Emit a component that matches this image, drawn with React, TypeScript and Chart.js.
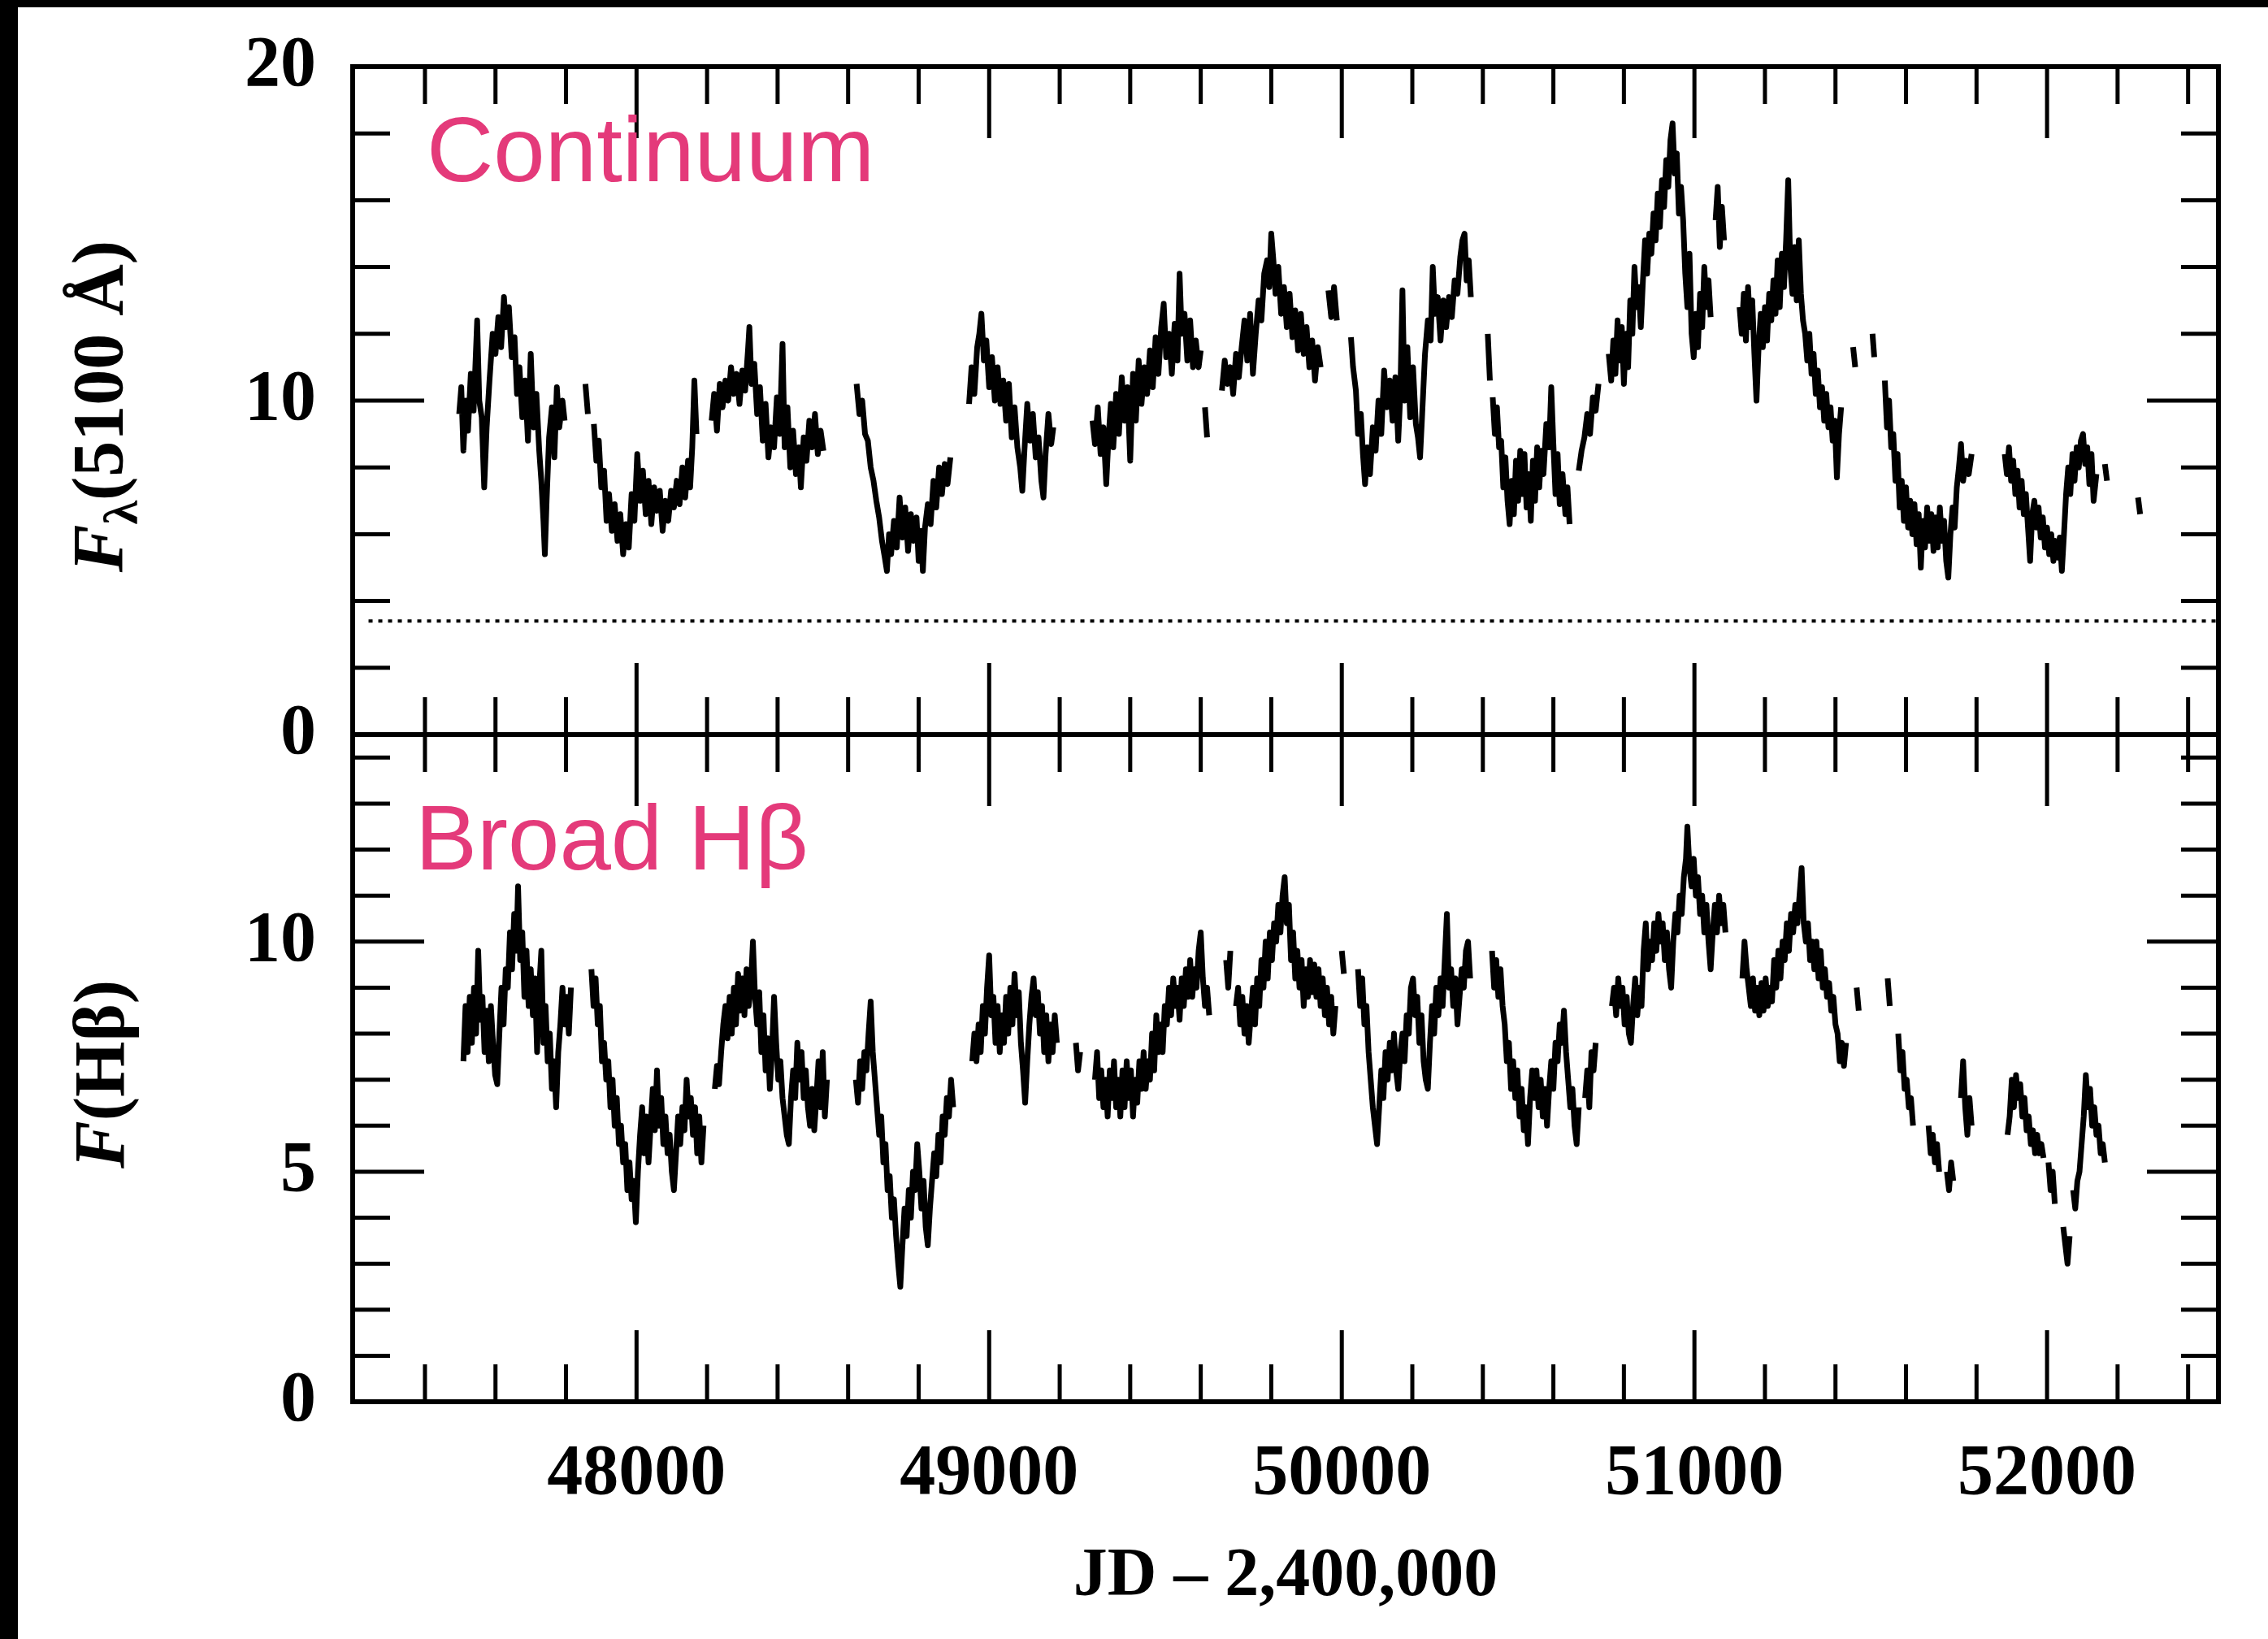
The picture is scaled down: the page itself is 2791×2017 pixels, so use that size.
import React, { useEffect, useRef } from "react";
import { Chart, registerables } from "chart.js";

Chart.register(...registerables);

// ---------------- data ----------------
const X_TICK_LABELS = [48000, 49000, 50000, 51000, 52000];
const CONT_TICK_LABELS = [0, 10, 20];
const HB_TICK_LABELS = [0, 5, 10];
const JD_RANGE = [47195, 52486];
const CONT_RANGE = [0, 20];
const HB_RANGE = [0, 14.5];
const HOST_JD = [47240, 52486];
const HOST_FLUX = [3.4, 3.4];

const CONT_LABEL = "Continuum";
const HB_LABEL = "Broad H\u03b2";
const X_TITLE = "JD \u2013 2,400,000";

// Continuum F_lambda(5100 A): [JD - 2,400,000, flux]; null = seasonal gap
const CONTINUUM: [number, number | null][] = [
  [47497,9.6],[47503,10.4],[47509,8.5],[47516,10.0],[47522,9.1],[47530,10.8],[47538,9.7],[47548,12.4],[47554,10.0],[47561,9.5],
  [47568,7.4],[47575,9.2],[47583,10.6],[47592,12.0],[47600,11.4],[47608,12.5],[47616,11.6],[47624,13.1],[47630,12.2],[47638,12.8],
  [47646,11.3],[47654,11.9],[47661,10.2],[47668,11.0],[47676,9.5],[47684,10.6],[47692,8.8],[47700,11.4],[47708,9.2],[47716,10.2],
  [47724,8.5],[47730,7.6],[47736,6.4],[47740,5.4],[47745,7.0],[47752,8.9],[47760,9.8],[47767,8.3],[47774,10.4],[47781,9.2],
  [47790,10.0],[47796,9.4],[47820,null],[47855,10.5],[47862,9.6],[47870,null],
  [47879,9.3],[47886,8.2],[47893,8.8],[47900,7.4],[47908,7.9],[47915,6.4],[47922,7.2],[47930,6.1],[47938,6.9],[47946,5.8],
  [47954,6.6],[47962,5.4],[47970,6.3],[47978,5.6],[47986,7.2],[47994,6.4],[48002,8.4],[48010,7.0],[48018,7.9],[48026,6.6],
  [48034,7.6],[48042,6.3],[48050,7.4],[48058,6.7],[48066,7.3],[48074,6.1],[48082,7.0],[48090,6.4],[48098,7.3],[48106,6.8],
  [48114,7.6],[48122,6.9],[48130,8.0],[48138,7.1],[48146,8.2],[48152,7.4],[48158,8.6],[48164,10.6],[48170,9.0],[48190,null],
  [48213,9.4],[48220,10.2],[48228,9.1],[48236,10.5],[48244,9.8],[48252,10.6],[48260,10.0],[48268,11.0],[48276,10.2],[48284,10.8],
  [48292,9.9],[48300,10.9],[48308,10.3],[48316,11.5],[48320,12.2],[48326,10.5],[48334,11.1],[48342,9.6],[48350,10.4],[48358,8.8],
  [48366,9.9],[48374,8.3],[48382,9.2],[48390,8.6],[48398,10.1],[48406,9.0],[48414,11.7],[48420,8.6],[48428,9.8],[48436,8.0],
  [48444,9.1],[48452,7.8],[48460,8.6],[48466,7.4],[48474,8.9],[48482,8.2],[48490,9.4],[48498,8.6],[48506,9.6],[48514,8.4],
  [48522,9.1],[48530,8.5],[48580,null],
  [48624,10.5],[48632,9.6],[48640,10.0],[48648,9.0],[48656,8.8],[48664,8.0],[48672,7.6],[48680,7.0],[48688,6.5],[48696,5.8],
  [48704,5.3],[48710,4.9],[48716,6.0],[48722,5.4],[48730,6.4],[48738,5.6],[48746,7.1],[48754,5.9],[48762,6.8],[48770,5.5],
  [48778,6.6],[48786,5.8],[48794,6.5],[48800,5.2],[48806,6.1],[48812,4.9],[48818,6.2],[48826,6.9],[48834,6.3],[48842,7.6],
  [48850,6.8],[48858,8.0],[48866,7.2],[48874,8.1],[48882,7.5],[48890,8.3],[48915,null],
  [48943,9.9],[48950,11.0],[48958,10.2],[48966,11.6],[48972,12.0],[48978,12.6],[48985,11.2],[48992,11.8],[49000,10.4],[49008,11.3],
  [49016,10.0],[49024,11.0],[49032,9.9],[49040,10.6],[49048,9.4],[49056,10.5],[49064,8.9],[49072,9.8],[49080,8.6],[49088,8.0],
  [49094,7.3],[49100,8.5],[49108,9.9],[49116,8.8],[49124,9.6],[49132,8.3],[49140,8.9],[49148,7.6],[49154,7.1],[49160,8.4],
  [49168,9.6],[49176,8.7],[49182,9.2],[49240,null],
  [49293,9.4],[49300,8.7],[49308,9.8],[49316,8.4],[49324,9.2],[49332,7.5],[49338,8.8],[49345,9.9],[49352,8.6],[49360,10.2],
  [49368,9.0],[49376,10.7],[49384,9.4],[49392,10.4],[49400,8.2],[49408,10.8],[49416,9.4],[49424,11.2],[49432,9.9],[49440,11.0],
  [49448,10.2],[49456,11.5],[49464,10.4],[49472,11.9],[49480,10.8],[49488,12.2],[49495,12.9],[49502,11.3],[49510,12.0],[49518,10.8],
  [49526,12.3],[49534,11.2],[49540,13.8],[49546,12.0],[49554,12.6],[49562,11.2],[49570,12.4],[49578,11.0],[49586,11.8],[49594,11.0],
  [49600,11.5],[49606,null],[49612,9.8],[49618,8.9],[49640,null],
  [49660,10.3],[49668,11.2],[49676,10.5],[49684,11.0],[49692,10.2],[49700,11.4],[49708,10.7],[49716,11.6],[49724,12.4],[49732,11.2],
  [49740,12.6],[49748,10.8],[49756,12.0],[49764,13.0],[49772,12.4],[49780,13.8],[49788,14.2],[49794,13.4],[49800,15.0],[49806,14.2],
  [49812,13.2],[49820,14.0],[49828,12.6],[49836,13.4],[49844,12.2],[49852,13.2],[49860,11.9],[49868,12.7],[49876,11.5],[49884,12.6],
  [49892,11.4],[49900,12.2],[49908,11.0],[49916,11.8],[49924,10.6],[49932,11.6],[49940,11.0],[49950,null],[49962,13.3],[49970,12.5],
  [49978,13.4],[49986,12.4],[50005,null],
  [50026,11.9],[50032,11.0],[50040,10.3],[50046,9.0],[50054,9.6],[50060,8.4],[50066,7.5],[50072,8.6],[50080,7.8],[50088,9.2],
  [50096,8.5],[50104,10.0],[50112,9.0],[50120,10.9],[50128,9.8],[50136,10.6],[50144,9.4],[50152,10.7],[50160,8.8],[50166,10.2],
  [50172,13.3],[50178,10.0],[50186,11.6],[50194,9.5],[50202,11.0],[50210,9.3],[50216,8.9],[50222,8.3],[50228,9.6],[50236,11.4],
  [50244,12.4],[50252,11.8],[50258,14.0],[50264,12.6],[50272,13.1],[50280,11.8],[50288,13.0],[50296,12.2],[50304,13.1],[50312,12.5],
  [50320,13.6],[50328,13.2],[50336,14.3],[50342,14.8],[50348,15.0],[50354,13.6],[50360,14.2],[50366,13.1],[50390,null],
  [50414,12.0],[50420,10.6],[50424,null],
  [50428,10.1],[50434,9.0],[50440,9.8],[50446,8.6],[50452,8.8],[50458,7.4],[50464,8.3],[50470,7.0],[50476,6.3],[50482,7.6],
  [50488,6.6],[50494,8.2],[50500,7.0],[50506,8.5],[50512,7.2],[50518,8.4],[50524,6.8],[50530,7.8],[50536,6.4],[50542,8.2],
  [50548,7.0],[50554,8.6],[50560,7.4],[50566,8.5],[50572,7.8],[50580,9.3],[50588,8.6],[50594,10.4],[50600,8.7],[50606,7.2],
  [50612,8.4],[50618,6.9],[50626,7.8],[50634,6.6],[50640,7.4],[50646,6.3],[50660,null],
  [50672,7.9],[50680,8.5],[50688,8.9],[50696,9.6],[50704,9.0],[50712,10.1],[50720,9.7],[50728,10.5],[50742,null],
  [50757,11.4],[50764,10.6],[50770,11.8],[50776,10.8],[50782,12.4],[50788,11.2],[50794,12.2],[50800,10.5],[50806,12.0],[50812,11.0],
  [50818,13.0],[50824,12.0],[50830,14.0],[50836,12.8],[50842,13.4],[50848,12.2],[50854,13.6],[50860,14.8],[50866,13.8],[50872,15.0],
  [50878,14.4],[50884,15.6],[50890,14.8],[50896,16.2],[50902,15.2],[50908,16.6],[50914,15.8],[50920,17.2],[50926,16.4],[50932,17.8],
  [50938,18.3],[50944,16.8],[50950,17.4],[50956,15.6],[50962,16.4],[50968,15.4],[50974,13.8],[50980,12.8],[50986,14.4],[50992,12.0],
  [50998,11.3],[51004,12.6],[51010,11.6],[51016,13.2],[51022,12.2],[51028,14.0],[51034,12.8],[51040,13.6],[51046,12.5],[51053,null],
  [51060,15.4],[51066,16.4],[51072,14.6],[51078,15.8],[51084,14.8],[51100,null],
  [51128,12.8],[51134,12.0],[51140,13.2],[51146,11.8],[51152,13.4],[51158,12.2],[51164,13.0],[51170,11.4],[51176,10.0],[51182,11.6],
  [51188,12.6],[51194,11.6],[51200,12.8],[51206,11.8],[51212,13.2],[51218,12.4],[51224,13.6],[51230,12.6],[51236,14.2],[51242,12.8],
  [51248,14.4],[51254,13.4],[51260,14.8],[51266,16.6],[51272,14.0],[51278,13.2],[51284,14.6],[51290,13.0],[51296,14.8],[51302,13.2],
  [51308,12.4],[51314,12.0],[51320,11.2],[51326,12.0],[51332,10.8],[51338,11.4],[51344,10.2],[51350,10.9],[51356,9.8],[51362,10.4],
  [51368,9.4],[51374,10.2],[51380,9.2],[51386,9.8],[51392,8.8],[51398,9.4],[51404,7.7],[51410,9.0],[51416,9.8],[51430,null],
  [51450,11.6],[51456,11.0],[51480,null],[51505,12.0],[51510,11.3],[51525,null],
  [51540,10.6],[51546,9.2],[51552,10.0],[51558,8.6],[51564,9.0],[51570,7.6],[51576,8.4],[51582,6.8],[51588,7.6],[51594,6.4],
  [51600,7.4],[51606,6.2],[51612,7.0],[51618,6.0],[51624,6.9],[51630,5.7],[51636,6.6],[51642,5.0],[51648,6.4],[51654,5.6],
  [51660,6.8],[51666,5.8],[51672,6.6],[51678,5.5],[51684,6.5],[51690,5.6],[51696,6.8],[51702,5.8],[51708,6.4],[51714,5.2],
  [51720,4.7],[51726,6.0],[51732,6.8],[51738,6.2],[51744,7.4],[51750,8.0],[51756,8.7],[51762,7.6],[51770,8.2],[51778,7.8],
  [51786,8.4],[51830,null],
  [51880,8.4],[51886,7.8],[51892,8.6],[51898,7.6],[51904,8.2],[51910,7.2],[51916,7.9],[51922,6.8],[51928,7.6],[51934,6.6],
  [51940,7.2],[51946,6.2],[51952,5.2],[51958,6.6],[51964,7.0],[51970,6.2],[51976,6.8],[51982,5.9],[51988,6.5],[51994,5.6],
  [52000,6.2],[52006,5.4],[52012,6.0],[52018,5.2],[52024,5.8],[52030,5.3],[52036,5.9],[52042,4.9],[52048,6.0],[52054,7.2],
  [52060,8.0],[52066,7.2],[52072,8.4],[52078,7.6],[52084,8.6],[52090,8.0],[52096,8.8],[52102,9.0],[52108,8.1],[52114,8.6],
  [52120,7.5],[52126,8.4],[52132,7.0],[52140,7.8],[52150,null],[52164,8.1],[52170,7.6],[52210,null],[52258,7.1],[52264,6.6],
];

// Broad H-beta flux: [JD - 2,400,000, flux]; null = seasonal gap
const BROAD_HB: [number, number | null][] = [
  [47509,7.4],[47515,8.6],[47521,7.6],[47527,8.8],[47533,7.8],[47539,9.0],[47545,8.0],[47551,9.8],[47557,8.3],[47563,8.8],
  [47569,7.6],[47575,8.5],[47581,7.4],[47587,8.6],[47593,7.8],[47599,7.1],[47605,6.9],[47611,8.0],[47617,9.0],[47623,8.2],
  [47629,9.4],[47635,9.0],[47641,10.2],[47647,9.4],[47653,10.6],[47659,9.8],[47664,11.2],[47670,9.6],[47676,10.2],[47682,8.8],
  [47688,9.8],[47694,8.6],[47700,9.4],[47706,8.4],[47712,9.2],[47718,7.6],[47724,9.0],[47730,9.8],[47736,7.8],[47742,8.6],
  [47748,7.4],[47754,8.0],[47760,6.8],[47766,7.4],[47772,6.4],[47778,7.6],[47784,8.2],[47790,9.0],[47796,8.2],[47802,8.8],
  [47808,8.0],[47814,9.0],[47840,null],
  [47872,9.4],[47878,8.6],[47884,9.2],[47890,8.2],[47896,8.6],[47902,7.4],[47908,7.8],[47914,7.0],[47920,7.4],[47926,6.4],
  [47932,7.0],[47938,6.0],[47944,6.6],[47950,5.6],[47956,6.0],[47962,5.2],[47968,5.6],[47974,4.6],[47980,5.2],[47986,4.4],
  [47992,4.8],[47998,3.9],[48004,5.0],[48010,5.8],[48016,6.4],[48022,5.4],[48028,6.2],[48034,5.2],[48040,6.0],[48046,6.8],
  [48052,5.9],[48058,7.2],[48064,6.0],[48070,6.6],[48076,5.6],[48082,6.2],[48088,5.4],[48094,5.8],[48100,5.0],[48106,4.6],
  [48112,5.4],[48118,6.2],[48124,5.6],[48130,6.4],[48136,5.9],[48142,7.0],[48148,6.2],[48154,6.6],[48160,5.8],[48166,6.4],
  [48172,5.4],[48178,6.2],[48184,5.2],[48190,6.0],[48205,null],
  [48222,6.8],[48228,7.3],[48234,6.9],[48240,7.6],[48246,8.2],[48252,8.6],[48258,7.9],[48264,8.8],[48270,8.0],[48276,9.0],
  [48282,8.2],[48288,9.3],[48294,8.5],[48300,9.2],[48306,8.4],[48312,9.4],[48318,8.6],[48324,9.0],[48330,10.0],[48336,8.8],
  [48342,8.2],[48348,8.9],[48354,7.6],[48360,8.4],[48366,7.2],[48372,7.9],[48378,6.8],[48384,7.6],[48390,8.8],[48396,7.8],
  [48402,7.0],[48408,7.4],[48414,6.6],[48420,6.2],[48426,5.8],[48432,5.6],[48438,6.6],[48444,7.2],[48450,6.6],[48456,7.8],
  [48462,7.0],[48468,7.6],[48474,6.6],[48480,7.2],[48486,6.4],[48492,6.0],[48498,6.8],[48504,5.9],[48510,6.6],[48516,7.4],
  [48522,6.4],[48528,7.6],[48534,6.2],[48540,7.0],[48580,null],
  [48622,7.0],[48628,6.5],[48634,7.4],[48640,6.8],[48646,7.6],[48652,7.2],[48658,8.0],[48664,8.7],[48670,7.6],[48676,7.0],
  [48682,6.4],[48688,5.8],[48694,6.2],[48700,5.2],[48706,5.6],[48712,4.6],[48718,4.9],[48724,4.0],[48730,4.4],[48736,3.6],
  [48742,3.0],[48748,2.5],[48754,3.4],[48760,4.2],[48766,3.6],[48772,4.6],[48778,4.0],[48784,5.0],[48790,4.6],[48796,5.6],
  [48802,5.0],[48808,4.2],[48814,4.8],[48820,3.8],[48826,3.4],[48832,4.2],[48838,4.8],[48844,5.4],[48850,4.9],[48856,5.8],
  [48862,5.2],[48868,6.2],[48874,5.8],[48880,6.6],[48886,6.2],[48892,7.0],[48898,6.4],[48925,null],
  [48952,7.4],[48958,8.0],[48964,7.4],[48970,8.2],[48976,7.6],[48982,8.6],[48988,8.0],[48994,9.0],[49000,9.7],[49006,8.4],
  [49012,8.8],[49018,7.8],[49024,8.6],[49030,7.6],[49036,8.4],[49042,7.8],[49048,8.8],[49054,8.0],[49060,9.0],[49066,8.2],
  [49072,9.3],[49078,8.4],[49084,8.9],[49090,7.8],[49096,7.2],[49102,6.5],[49108,7.4],[49114,8.2],[49120,8.8],[49126,9.2],
  [49132,8.4],[49138,8.9],[49144,8.0],[49150,8.6],[49156,7.6],[49162,8.4],[49168,7.4],[49174,8.2],[49180,7.6],[49186,8.4],
  [49192,7.8],[49220,null],[49246,7.8],[49252,7.2],[49258,7.6],[49280,null],
  [49300,7.0],[49306,7.6],[49312,6.6],[49318,7.2],[49324,6.4],[49330,7.0],[49336,6.2],[49342,7.2],[49348,6.6],[49354,7.4],
  [49360,6.4],[49366,7.0],[49372,6.2],[49378,7.2],[49384,6.4],[49390,7.4],[49396,6.6],[49402,7.2],[49408,6.2],[49414,7.0],
  [49420,6.5],[49426,7.4],[49432,6.8],[49438,7.6],[49444,6.8],[49450,7.4],[49456,7.0],[49462,8.0],[49468,7.2],[49474,8.4],
  [49480,7.6],[49486,8.2],[49492,7.6],[49498,8.6],[49504,8.2],[49510,9.0],[49516,8.4],[49522,9.2],[49528,8.6],[49534,9.0],
  [49540,8.3],[49546,9.2],[49552,8.6],[49558,9.4],[49564,8.8],[49570,9.6],[49576,8.8],[49582,9.4],[49588,9.0],[49594,9.8],
  [49600,10.2],[49606,9.2],[49612,8.6],[49618,9.0],[49624,8.4],[49650,null],
  [49672,9.6],[49678,9.0],[49684,9.8],[49692,null],[49700,8.6],[49706,9.0],[49712,8.2],[49718,8.8],[49724,8.0],[49730,8.6],
  [49736,7.8],[49742,8.4],[49748,9.0],[49754,8.2],[49760,9.2],[49766,8.6],[49772,9.6],[49778,9.0],[49784,10.0],[49790,9.2],
  [49796,10.2],[49802,9.6],[49808,10.4],[49814,10.0],[49820,10.8],[49826,10.2],[49832,11.0],[49838,11.4],[49844,10.4],[49850,10.8],
  [49856,9.6],[49862,10.2],[49868,9.2],[49874,9.8],[49880,9.0],[49886,9.6],[49892,8.6],[49898,9.4],[49904,8.8],[49910,9.6],
  [49916,8.9],[49922,9.5],[49928,8.8],[49934,9.4],[49940,8.6],[49946,9.2],[49952,8.4],[49958,9.0],[49964,8.2],[49970,8.8],
  [49976,8.0],[49982,8.6],[49991,null],[50000,9.8],[50006,9.3],[50025,null],
  [50046,9.4],[50052,8.6],[50058,9.2],[50064,8.2],[50070,8.6],[50076,7.6],[50082,7.0],[50088,6.4],[50094,6.0],[50100,5.6],
  [50106,6.4],[50112,7.2],[50118,6.6],[50124,7.6],[50130,7.0],[50136,7.8],[50142,7.2],[50148,8.0],[50154,7.2],[50160,6.8],
  [50166,7.6],[50172,8.0],[50178,7.4],[50184,8.4],[50190,8.0],[50196,9.0],[50202,9.2],[50208,8.4],[50214,8.8],[50220,7.8],
  [50226,8.4],[50232,7.4],[50238,7.0],[50244,6.8],[50250,7.8],[50256,8.6],[50262,8.0],[50268,9.0],[50274,8.4],[50280,9.2],
  [50286,8.6],[50292,9.6],[50298,10.6],[50304,9.0],[50310,9.4],[50316,8.6],[50322,9.2],[50328,8.2],[50334,8.8],[50340,9.4],
  [50346,9.0],[50352,9.8],[50358,10.0],[50364,9.2],[50395,null],
  [50426,9.8],[50432,9.0],[50438,9.6],[50444,8.8],[50450,9.4],[50456,8.6],[50462,8.2],[50468,7.4],[50474,7.8],[50480,6.8],
  [50486,7.4],[50492,6.6],[50498,7.2],[50504,6.2],[50510,6.8],[50516,5.9],[50522,6.4],[50528,5.6],[50534,6.6],[50540,7.2],
  [50546,6.6],[50552,7.2],[50558,6.4],[50564,7.0],[50570,6.2],[50576,6.8],[50582,6.0],[50588,6.8],[50594,7.4],[50600,6.8],
  [50606,7.8],[50612,7.4],[50618,8.2],[50624,7.8],[50630,8.5],[50636,7.6],[50642,7.0],[50648,6.4],[50654,6.8],[50660,6.0],
  [50666,5.6],[50672,6.4],[50681,null],[50690,6.6],[50696,7.2],[50702,6.4],[50708,7.6],[50714,7.2],[50720,7.8],[50745,null],
  [50766,8.6],[50772,9.0],[50778,8.4],[50784,9.2],[50790,8.6],[50796,9.0],[50802,8.2],[50808,8.8],[50814,8.0],[50820,7.8],
  [50826,8.6],[50832,9.2],[50838,8.4],[50844,9.0],[50850,8.6],[50856,9.8],[50862,10.4],[50868,9.4],[50874,10.0],[50880,9.6],
  [50886,10.4],[50892,9.8],[50898,10.6],[50904,10.0],[50910,10.4],[50916,9.6],[50922,10.2],[50928,9.4],[50934,9.0],[50940,10.0],
  [50946,10.6],[50952,10.2],[50958,11.0],[50964,10.6],[50970,11.4],[50976,11.8],[50980,12.5],[50986,11.6],[50992,11.2],[50998,11.8],
  [51004,11.0],[51010,11.4],[51016,10.6],[51022,11.0],[51028,10.2],[51034,10.8],[51040,10.0],[51046,9.4],[51052,10.2],[51058,10.8],
  [51064,10.2],[51070,11.0],[51076,10.4],[51082,10.8],[51088,10.2],[51110,null],
  [51136,9.2],[51142,10.0],[51148,9.4],[51154,9.0],[51160,8.6],[51166,9.2],[51172,8.5],[51178,9.0],[51184,8.4],[51190,9.1],
  [51196,8.5],[51202,9.2],[51208,8.6],[51214,9.0],[51220,8.7],[51226,9.6],[51232,9.0],[51238,9.8],[51244,9.2],[51250,10.0],
  [51256,9.6],[51262,10.4],[51268,9.8],[51274,10.6],[51280,10.2],[51286,10.8],[51292,10.4],[51298,11.0],[51304,11.6],[51310,10.4],
  [51316,10.0],[51322,10.4],[51328,9.6],[51334,10.0],[51340,9.4],[51346,10.0],[51352,9.2],[51358,9.8],[51364,9.0],[51370,9.4],
  [51376,8.8],[51382,9.1],[51388,8.5],[51394,8.8],[51400,8.2],[51406,8.0],[51412,7.4],[51418,7.8],[51424,7.3],[51430,7.8],
  [51445,null],[51460,9.0],[51466,8.5],[51500,null],[51548,9.2],[51554,8.6],[51566,null],
  [51578,8.0],[51584,7.2],[51590,7.6],[51596,6.8],[51602,7.0],[51608,6.4],[51614,6.6],[51620,6.0],[51640,null],
  [51664,6.0],[51670,5.4],[51676,5.8],[51682,5.2],[51688,5.6],[51694,5.0],[51705,null],
  [51716,5.0],[51722,4.6],[51728,5.2],[51734,4.8],[51745,null],
  [51756,6.6],[51762,7.4],[51768,6.4],[51774,5.8],[51780,6.6],[51786,6.0],[51840,null],
  [51888,5.8],[51894,6.2],[51900,7.0],[51906,6.4],[51912,7.1],[51918,6.6],[51924,6.9],[51930,6.2],[51936,6.6],[51942,5.9],
  [51948,6.2],[51954,5.6],[51960,5.9],[51966,5.4],[51972,5.8],[51978,5.4],[51984,5.6],[51990,5.3],[51997,null],
  [52004,5.2],[52010,4.6],[52016,5.0],[52022,4.3],[52034,null],[52046,3.8],[52052,3.4],[52058,3.0],[52064,3.6],[52069,null],
  [52074,4.6],[52080,4.2],[52086,4.8],[52092,5.0],[52098,5.6],[52104,6.2],[52110,7.1],[52116,6.4],[52122,6.8],[52128,6.0],
  [52134,6.4],[52140,5.8],[52146,6.0],[52152,5.4],[52158,5.6],[52164,5.2],
];

// ---------------- layout & style ----------------
const W = 2791;
const H = 2017;
const PLOT_LEFT = 434;
const PLOT_RIGHT = 2730;
const UP_TOP = 82;
const MID_Y = 904;
const LOW_BOTTOM = 1725;
const UP_H = 1000;
const LOW_TOP = 850;
const LOW_H = H - LOW_TOP;
const PINK = "rgb(228, 58, 122)";
const SERIF = '"Liberation Serif", "Times New Roman", Times, serif';
const SANS = '"Liberation Sans", Arial, Helvetica, sans-serif';
const TICK_FONT = { family: SERIF, size: 88, weight: "bold" as const };
const LINE_W = 7;

type Part = { t: string; italic?: boolean; sub?: boolean };

function drawRotatedTitle(ctx: CanvasRenderingContext2D, parts: Part[], baseX: number, centerY: number, size: number) {
  ctx.save();
  ctx.translate(baseX, centerY);
  ctx.rotate(-Math.PI / 2);
  ctx.fillStyle = "#000";
  ctx.textBaseline = "alphabetic";
  ctx.textAlign = "left";
  const fontFor = (p: Part) => `${p.italic ? "italic " : ""}bold ${p.sub ? Math.round(size * 0.68) : size}px ${SERIF}`;
  let total = 0;
  const widths = parts.map((p) => {
    ctx.font = fontFor(p);
    const w = ctx.measureText(p.t).width;
    total += w;
    return w;
  });
  let x = -total / 2;
  parts.forEach((p, i) => {
    ctx.font = fontFor(p);
    ctx.fillText(p.t, x, p.sub ? size * 0.22 : 0);
    x += widths[i];
  });
  ctx.restore();
}

function frameTicksPlugin(yMinor: number, yMajor: number) {
  return {
    id: "frameTicks",
    afterDatasetsDraw(chart: any) {
      const { ctx, chartArea: a } = chart;
      const xs = chart.scales.x;
      const ys = chart.scales.y;
      ctx.save();
      ctx.strokeStyle = "#000";
      ctx.lineCap = "butt";
      ctx.lineWidth = 5;
      ctx.beginPath();
      const first = Math.ceil(xs.min / 200) * 200;
      for (let v = first; v <= xs.max; v += 200) {
        const p = xs.getPixelForValue(v);
        if (p < a.left + 10 || p > a.right - 10) continue;
        const len = v % 1000 === 0 ? 88 : 46;
        ctx.moveTo(p, a.top);
        ctx.lineTo(p, a.top + len);
        ctx.moveTo(p, a.bottom);
        ctx.lineTo(p, a.bottom - len);
      }
      const n = Math.round((ys.max - ys.min) / yMinor);
      for (let i = 0; i <= n; i++) {
        const v = ys.min + i * yMinor;
        const p = ys.getPixelForValue(v);
        if (p < a.top + 10 || p > a.bottom - 10) continue;
        const major = Math.abs(v / yMajor - Math.round(v / yMajor)) < 1e-6;
        const len = major ? 88 : 46;
        ctx.moveTo(a.left, p);
        ctx.lineTo(a.left + len, p);
        ctx.moveTo(a.right, p);
        ctx.lineTo(a.right - len, p);
      }
      ctx.stroke();
      ctx.lineWidth = 6;
      ctx.strokeRect(a.left, a.top, a.right - a.left, a.bottom - a.top);
      ctx.restore();
    },
  };
}

function textPlugin(label: string, lx: number, ly: number, title: Part[], tBaseX: number, tCenterY: number) {
  return {
    id: "panelTexts",
    afterDraw(chart: any) {
      const ctx: CanvasRenderingContext2D = chart.ctx;
      ctx.save();
      ctx.fillStyle = PINK;
      ctx.font = `114px ${SANS}`;
      ctx.textBaseline = "alphabetic";
      ctx.textAlign = "left";
      ctx.fillText(label, lx, ly);
      ctx.restore();
      drawRotatedTitle(ctx, title, tBaseX, tCenterY, 88);
    },
  };
}

const toXY = (arr: [number, number | null][]) => arr.map(([x, y]) => ({ x, y }));

const fixYWidth = (s: any) => {
  s.width = PLOT_LEFT;
  s.paddingTop = 0;
  s.paddingBottom = 0;
};

export default function App() {
  const upRef = useRef<HTMLCanvasElement>(null);
  const lowRef = useRef<HTMLCanvasElement>(null);

  useEffect(() => {
    const yLabelTicks = {
      padding: 45,
      color: "#000",
      font: TICK_FONT,
      callback: (v: any) => String(v),
    };

    const upper = new Chart(upRef.current as HTMLCanvasElement, {
      type: "line",
      data: {
        datasets: [
          {
            data: toXY(CONTINUUM) as any,
            borderColor: "#000",
            borderWidth: LINE_W,
            pointRadius: 0,
            spanGaps: false,
            tension: 0,
            borderJoinStyle: "round",
            fill: false,
          },
          {
            data: HOST_JD.map((x, i) => ({ x, y: HOST_FLUX[i] })) as any,
            borderColor: "#000",
            borderWidth: 4,
            borderDash: [5, 7],
            pointRadius: 0,
            fill: false,
          },
        ],
      },
      options: {
        animation: false,
        responsive: false,
        maintainAspectRatio: false,
        events: [],
        layout: { padding: { left: 0, right: W - PLOT_RIGHT, top: UP_TOP, bottom: UP_H - MID_Y } },
        plugins: { legend: { display: false }, tooltip: { enabled: false } },
        scales: {
          x: { type: "linear", display: false, min: JD_RANGE[0], max: JD_RANGE[1] },
          y: {
            type: "linear",
            min: CONT_RANGE[0],
            max: CONT_RANGE[1],
            grid: { display: false, drawTicks: false },
            border: { display: false },
            afterBuildTicks: (s: any) => {
              s.ticks = CONT_TICK_LABELS.map((value) => ({ value }));
            },
            afterFit: fixYWidth,
            ticks: yLabelTicks as any,
          },
        },
      },
      plugins: [
        frameTicksPlugin(2, 10),
        textPlugin(CONT_LABEL, 525, 223, [{ t: "F", italic: true }, { t: "\u03bb", sub: true }, { t: "(5100 \u00c5)" }], 150, 500),
      ],
    });

    const lower = new Chart(lowRef.current as HTMLCanvasElement, {
      type: "line",
      data: {
        datasets: [
          {
            data: toXY(BROAD_HB) as any,
            borderColor: "#000",
            borderWidth: LINE_W,
            pointRadius: 0,
            spanGaps: false,
            tension: 0,
            borderJoinStyle: "round",
            fill: false,
          },
        ],
      },
      options: {
        animation: false,
        responsive: false,
        maintainAspectRatio: false,
        events: [],
        layout: { padding: { left: 0, right: W - PLOT_RIGHT, top: MID_Y - LOW_TOP, bottom: 0 } },
        plugins: { legend: { display: false }, tooltip: { enabled: false } },
        scales: {
          x: {
            type: "linear",
            position: "bottom",
            min: JD_RANGE[0],
            max: JD_RANGE[1],
            grid: { display: false, drawTicks: false },
            border: { display: false },
            afterBuildTicks: (s: any) => {
              s.ticks = X_TICK_LABELS.map((value) => ({ value }));
            },
            afterFit: (s: any) => {
              s.height = LOW_H - (LOW_BOTTOM - LOW_TOP);
              s.paddingLeft = 0;
              s.paddingRight = 0;
            },
            ticks: {
              padding: 37,
              color: "#000",
              font: TICK_FONT,
              maxRotation: 0,
              autoSkip: false,
              callback: (v: any) => String(v),
            } as any,
            title: {
              display: true,
              text: X_TITLE,
              color: "#000",
              font: { family: SERIF, size: 84, weight: "bold" },
              padding: { top: 0, bottom: 25 },
            },
          },
          y: {
            type: "linear",
            min: HB_RANGE[0],
            max: HB_RANGE[1],
            grid: { display: false, drawTicks: false },
            border: { display: false },
            afterBuildTicks: (s: any) => {
              s.ticks = HB_TICK_LABELS.map((value) => ({ value }));
            },
            afterFit: fixYWidth,
            ticks: yLabelTicks as any,
          },
        },
      },
      plugins: [
        frameTicksPlugin(1, 5),
        textPlugin(HB_LABEL, 511, 1070 - LOW_TOP, [{ t: "F", italic: true }, { t: "(H\u03b2)" }], 152, 1322 - LOW_TOP),
      ],
    });

    return () => {
      upper.destroy();
      lower.destroy();
    };
  }, []);

  return (
    <div style={{ position: "absolute", left: 0, top: 0, width: W, height: H, background: "#fff", overflow: "hidden" }}>
      <canvas ref={upRef} width={W} height={UP_H} style={{ position: "absolute", left: 0, top: 0, width: W, height: UP_H }} />
      <canvas ref={lowRef} width={W} height={LOW_H} style={{ position: "absolute", left: 0, top: LOW_TOP, width: W, height: LOW_H }} />
      <div style={{ position: "absolute", left: 0, top: 0, width: W, height: 9, background: "#000" }} />
      <div style={{ position: "absolute", left: 0, top: 0, width: 22, height: H, background: "#000" }} />
    </div>
  );
}
